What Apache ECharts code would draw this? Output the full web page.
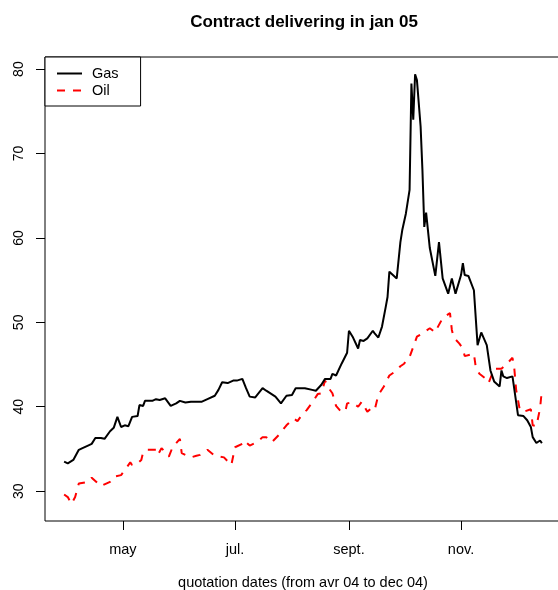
<!DOCTYPE html>
<html>
<head>
<meta charset="utf-8">
<title>Contract delivering in jan 05</title>
<script src="https://cdn.jsdelivr.net/npm/echarts@6/dist/echarts.min.js"></script>
<style>
  html, body { margin: 0; padding: 0; background: #fff; }
  #chart { width: 558px; height: 590px; }
</style>
</head>
<body>
<div id="chart"></div>
<script>
// Gas futures quotes, contract delivering January 2005
const gasDates = [
  '2004-03-30','2004-04-01','2004-04-04','2004-04-07','2004-04-09','2004-04-12','2004-04-14','2004-04-16',
  '2004-04-19','2004-04-21','2004-04-24','2004-04-26','2004-04-28','2004-04-30','2004-05-02','2004-05-04',
  '2004-05-06','2004-05-09','2004-05-10','2004-05-12','2004-05-13','2004-05-17','2004-05-19','2004-05-21',
  '2004-05-24','2004-05-27','2004-05-30','2004-06-01','2004-06-04','2004-06-07','2004-06-13','2004-06-16',
  '2004-06-20','2004-06-22','2004-06-24','2004-06-27','2004-06-30','2004-07-02','2004-07-05','2004-07-06',
  '2004-07-07','2004-07-09','2004-07-12','2004-07-16','2004-07-18','2004-07-23','2004-07-26','2004-07-29',
  '2004-08-01','2004-08-03','2004-08-04','2004-08-08','2004-08-12','2004-08-14','2004-08-17','2004-08-19',
  '2004-08-22','2004-08-23','2004-08-25','2004-08-28','2004-08-31','2004-09-01','2004-09-03','2004-09-06',
  '2004-09-07','2004-09-09','2004-09-11','2004-09-12','2004-09-14','2004-09-15','2004-09-17','2004-09-19',
  '2004-09-21','2004-09-22','2004-09-23','2004-09-24','2004-09-27','2004-09-29','2004-09-30','2004-10-02',
  '2004-10-04','2004-10-05','2004-10-06','2004-10-07','2004-10-08','2004-10-10','2004-10-11','2004-10-12',
  '2004-10-13','2004-10-15','2004-10-18','2004-10-20','2004-10-22','2004-10-25','2004-10-27','2004-10-29',
  '2004-11-01','2004-11-02','2004-11-03','2004-11-05','2004-11-08','2004-11-10','2004-11-12','2004-11-15',
  '2004-11-17','2004-11-19','2004-11-22','2004-11-23','2004-11-24','2004-11-26','2004-11-29','2004-11-30',
  '2004-12-02','2004-12-05','2004-12-07','2004-12-09','2004-12-10','2004-12-12','2004-12-14','2004-12-15'
];
const gasValues = [
  33.5, 33.3, 33.7, 34.9, 35.1, 35.4, 35.6, 36.3,
  36.3, 36.2, 37.1, 37.5, 38.8, 37.6, 37.8, 37.7,
  38.8, 38.9, 40.2, 40.1, 40.7, 40.7, 40.9, 40.8,
  41.0, 40.1, 40.4, 40.7, 40.5, 40.6, 40.6, 40.9,
  41.3, 42.0, 42.9, 42.8, 43.1, 43.1, 43.3, 43.1,
  42.2, 41.2, 41.1, 42.2, 41.9, 41.2, 40.4, 41.3,
  41.4, 42.2, 42.3, 42.2, 42.0, 41.9, 42.6, 43.3,
  43.3, 43.9, 43.7, 45.1, 46.4, 49.0, 48.3, 46.9,
  47.9, 47.8, 48.1, 48.2, 49.0, 48.7, 48.2, 49.5,
  51.8, 53.0, 56.0, 56.0, 55.2, 59.5, 60.9, 62.9,
  65.7, 78.3, 74.0, 79.4, 78.7, 73.2, 68.0, 61.3,
  63.0, 58.8, 55.5, 59.5, 55.2, 53.4, 55.2, 53.4,
  55.6, 57.0, 55.6, 55.5, 53.8, 47.3, 48.8, 47.3,
  44.3, 43.0, 42.4, 44.3, 43.6, 43.4, 43.6, 43.4,
  39.0, 38.9, 38.4, 37.6, 36.4, 35.7, 36.0, 35.7
];

// Oil futures quotes, same delivery month
const oilDates = [
  '2004-03-30','2004-04-01','2004-04-03','2004-04-05','2004-04-07','2004-04-12','2004-04-14','2004-04-19',
  '2004-04-24','2004-04-26','2004-04-30','2004-05-02','2004-05-05','2004-05-06','2004-05-09','2004-05-11',
  '2004-05-12','2004-05-14','2004-05-19','2004-05-20','2004-05-22','2004-05-26','2004-05-28','2004-06-01',
  '2004-06-02','2004-06-07','2004-06-10','2004-06-12','2004-06-16','2004-06-20','2004-06-21','2004-06-25',
  '2004-06-29','2004-07-01','2004-07-05','2004-07-06','2004-07-09','2004-07-13','2004-07-16','2004-07-18',
  '2004-07-21','2004-07-25','2004-07-26','2004-07-29','2004-08-02','2004-08-04','2004-08-07','2004-08-09',
  '2004-08-12','2004-08-15','2004-08-17','2004-08-19','2004-08-21','2004-08-23','2004-08-25','2004-08-27',
  '2004-08-30','2004-08-31','2004-09-03','2004-09-06','2004-09-08','2004-09-11','2004-09-13','2004-09-15',
  '2004-09-17','2004-09-20','2004-09-23','2004-09-27','2004-09-29','2004-10-01','2004-10-04','2004-10-06',
  '2004-10-08','2004-10-11','2004-10-15','2004-10-18','2004-10-19','2004-10-22','2004-10-26','2004-10-27',
  '2004-10-28','2004-10-31','2004-11-02','2004-11-03','2004-11-08','2004-11-09','2004-11-11','2004-11-14',
  '2004-11-16','2004-11-19','2004-11-23','2004-11-26','2004-11-29','2004-11-30','2004-12-01','2004-12-03',
  '2004-12-05','2004-12-09','2004-12-10','2004-12-12','2004-12-14','2004-12-15'
];
const oilValues = [
  29.6, 29.3, 28.5, 29.3, 30.9, 31.1, 31.6, 30.6,
  31.1, 31.7, 31.9, 32.5, 33.4, 33.1, 33.3, 33.7,
  34.6, 34.9, 34.9, 34.3, 35.1, 34.1, 35.2, 36.2,
  34.5, 34.0, 34.2, 34.3, 34.9, 34.2, 34.4, 34.0,
  33.1, 35.2, 35.6, 36.0, 35.4, 35.8, 36.4, 36.4,
  35.8, 36.7, 36.6, 37.8, 38.6, 38.3, 39.2, 39.6,
  40.5, 41.5, 41.6, 43.1, 42.2, 41.6, 40.1, 39.6,
  39.4, 40.4, 40.5, 40.0, 40.6, 39.4, 39.8, 39.6,
  41.4, 42.4, 43.7, 44.3, 44.8, 45.1, 45.9, 47.1,
  48.3, 48.7, 49.3, 48.8, 49.3, 50.5, 51.1, 49.1,
  48.2, 47.5, 46.9, 46.0, 46.3, 44.7, 43.9, 43.4,
  42.8, 44.5, 44.5, 45.1, 45.8, 44.5, 42.0, 39.6,
  39.4, 39.7, 37.8, 37.7, 39.8, 42.0
];

// Month ticks on the date axis
const tickDates = ['2004-05-01', '2004-07-01', '2004-09-01', '2004-11-01'];
const tickLabels = ['may', 'jul.', 'sept.', 'nov.'];
const yTicks = [30, 40, 50, 60, 70, 80];

const FONT = '"Liberation Sans", Arial, Helvetica, sans-serif';
const FS = 14.5;

// Dates are placed on a numeric axis as timestamps
function toTime(s) {
  const p = s.split('-').map(Number);
  return Date.UTC(p[0], p[1] - 1, p[2]);
}

const gasData = gasDates.map((d, i) => [toTime(d), gasValues[i]]);
const oilData = oilDates.map((d, i) => [toTime(d), oilValues[i]]);
const tickTimes = tickDates.map(toTime);

// Axis ranges padded by 4% on each side of the data
const allT = gasData.concat(oilData).map(p => p[0]);
const allV = gasValues.concat(oilValues);
const tMin = Math.min(...allT), tMax = Math.max(...allT);
const vMin = Math.min(...allV), vMax = Math.max(...allV);
const tPad = (tMax - tMin) * 0.04, vPad = (vMax - vMin) * 0.04;

function monthLabel(v) {
  let best = 0;
  for (let i = 1; i < tickTimes.length; i++) {
    if (Math.abs(tickTimes[i] - v) < Math.abs(tickTimes[best] - v)) best = i;
  }
  return tickLabels[best];
}

const chart = echarts.init(document.getElementById('chart'), null, { renderer: 'canvas' });
chart.setOption({
  backgroundColor: '#fff',
  animation: false,
  textStyle: { fontFamily: FONT, color: '#000' },
  title: {
    text: 'Contract delivering in jan 05',
    left: 299,
    top: 9,
    textAlign: 'center',
    textStyle: { fontFamily: FONT, fontSize: 17, fontWeight: 'bold', color: '#000' }
  },
  legend: {
    orient: 'vertical',
    left: 45,
    top: 57,
    padding: [9, 22, 8, 11],
    itemGap: 2,
    itemWidth: 25,
    itemHeight: 14,
    borderColor: '#000',
    borderWidth: 1,
    borderRadius: 0,
    backgroundColor: '#fff',
    selectedMode: false,
    itemStyle: { opacity: 0 },
    data: ['Gas', 'Oil'],
    textStyle: { fontFamily: FONT, fontSize: FS, lineHeight: 14, color: '#000', padding: [0, 0, 0, 5] }
  },
  grid: {
    left: 45,
    top: 57,
    width: 516,
    height: 464,
    show: true,
    borderColor: '#000',
    borderWidth: 1,
    backgroundColor: 'transparent',
    outerBoundsMode: 'none'
  },
  xAxis: {
    type: 'value',
    min: tMin - tPad,
    max: tMax + tPad,
    name: 'quotation dates (from avr 04 to dec 04)',
    nameLocation: 'middle',
    nameGap: 54,
    nameTextStyle: { fontFamily: FONT, fontSize: FS, color: '#000' },
    axisLine: { show: false },
    splitLine: { show: false },
    axisTick: {
      show: true,
      customValues: tickTimes,
      length: 9,
      lineStyle: { color: '#000', width: 1 }
    },
    axisLabel: {
      customValues: tickTimes,
      margin: 21,
      fontFamily: FONT,
      fontSize: FS,
      color: '#000',
      formatter: monthLabel
    }
  },
  yAxis: {
    type: 'value',
    min: vMin - vPad,
    max: vMax + vPad,
    axisLine: { show: false },
    splitLine: { show: false },
    axisTick: {
      show: true,
      customValues: yTicks,
      length: 9,
      lineStyle: { color: '#000', width: 1 }
    },
    axisLabel: {
      customValues: yTicks,
      rotate: 90,
      margin: 19,
      fontFamily: FONT,
      fontSize: 14,
      color: '#000'
    }
  },
  series: [
    {
      name: 'Gas',
      type: 'line',
      data: gasData,
      symbol: 'none',
      lineStyle: { color: '#000', width: 2 },
      itemStyle: { color: '#000' },
      z: 3
    },
    {
      name: 'Oil',
      type: 'line',
      data: oilData,
      symbol: 'none',
      lineStyle: { color: '#ff0000', width: 2, type: [8, 8] },
      itemStyle: { color: '#ff0000' },
      z: 2
    }
  ]
});
</script>
</body>
</html>
